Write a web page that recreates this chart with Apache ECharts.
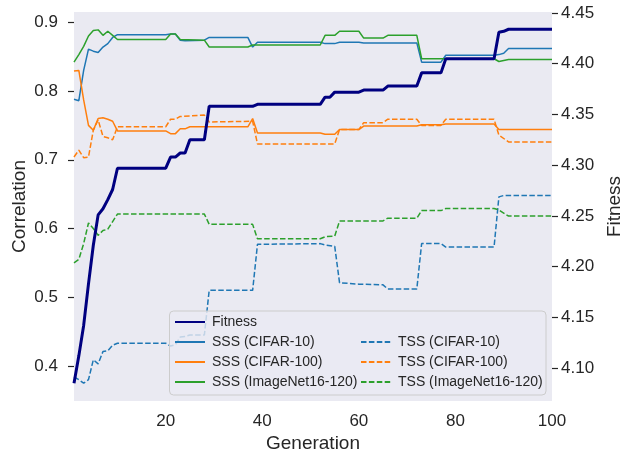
<!DOCTYPE html>
<html>
<head>
<meta charset="utf-8">
<script src="https://cdn.jsdelivr.net/npm/echarts@6/dist/echarts.min.js"></script>
<style>
html,body{margin:0;padding:0;background:#fff;}
#chart{width:629px;height:453px;}
</style>
</head>
<body>
<div id="chart"></div>
<script>
// ---- data: [generation, value] at each vertex ----
const fitness = [[1,4.085],[2,4.112],[3,4.142],[4,4.183],[5,4.221],[6,4.251],[7,4.257],[8,4.266],[9,4.276],[10,4.297],[20,4.297],[21,4.308],[22,4.308],[23,4.312],[24,4.312],[25,4.325],[28,4.325],[29,4.358],[38,4.358],[39,4.360],[52,4.360],[53,4.367],[54,4.367],[55,4.372],[60,4.372],[61,4.374],[65,4.374],[66,4.378],[72,4.378],[73,4.391],[77,4.391],[78,4.405],[88,4.405],[89,4.431],[90,4.432],[91,4.434],[100,4.434]];
const sssCifar10 = [[1,0.788],[2,0.786],[3,0.830],[4,0.861],[5,0.858],[6,0.856],[7,0.864],[8,0.869],[9,0.878],[10,0.882],[20,0.882],[21,0.883],[22,0.883],[23,0.874],[24,0.873],[28,0.874],[29,0.878],[37,0.878],[38,0.864],[39,0.871],[52,0.871],[53,0.869],[55,0.869],[56,0.871],[60,0.871],[61,0.870],[72,0.870],[73,0.842],[77,0.842],[78,0.852],[88,0.852],[89,0.853],[90,0.855],[91,0.862],[100,0.862]];
const sssCifar100 = [[1,0.829],[2,0.830],[3,0.787],[4,0.750],[5,0.743],[6,0.760],[7,0.761],[8,0.759],[9,0.756],[10,0.742],[20,0.742],[21,0.738],[22,0.738],[23,0.745],[24,0.745],[25,0.748],[37,0.748],[38,0.760],[39,0.739],[52,0.739],[53,0.737],[55,0.737],[56,0.744],[60,0.744],[61,0.749],[72,0.749],[73,0.751],[77,0.751],[78,0.752],[88,0.752],[89,0.744],[100,0.744]];
const sssImageNet = [[1,0.842],[2,0.853],[3,0.865],[4,0.880],[5,0.888],[6,0.889],[7,0.881],[8,0.887],[9,0.881],[10,0.875],[20,0.875],[21,0.883],[22,0.883],[23,0.875],[28,0.874],[29,0.864],[37,0.864],[38,0.867],[52,0.867],[53,0.881],[55,0.881],[56,0.887],[60,0.887],[61,0.877],[65,0.877],[66,0.881],[72,0.881],[73,0.847],[88,0.847],[89,0.843],[91,0.846],[100,0.846]];
const tssCifar10 = [[1,0.384],[2,0.380],[3,0.375],[4,0.380],[5,0.409],[6,0.403],[7,0.421],[8,0.422],[9,0.430],[10,0.433],[20,0.433],[21,0.429],[22,0.431],[23,0.442],[24,0.443],[25,0.445],[28,0.445],[29,0.510],[38,0.510],[39,0.577],[52,0.578],[53,0.576],[55,0.574],[56,0.521],[60,0.519],[65,0.518],[66,0.512],[72,0.512],[73,0.578],[77,0.578],[78,0.573],[88,0.573],[89,0.646],[90,0.648],[100,0.648]];
const tssCifar100 = [[1,0.704],[2,0.714],[3,0.703],[4,0.704],[5,0.743],[6,0.758],[7,0.734],[8,0.732],[9,0.729],[10,0.748],[20,0.748],[21,0.759],[22,0.759],[23,0.763],[28,0.765],[29,0.755],[38,0.756],[39,0.723],[55,0.723],[56,0.744],[60,0.744],[61,0.754],[65,0.754],[66,0.759],[72,0.759],[73,0.750],[77,0.750],[78,0.759],[88,0.759],[89,0.736],[91,0.726],[100,0.726]];
const tssImageNet = [[1,0.550],[2,0.555],[3,0.578],[4,0.608],[5,0.600],[6,0.590],[7,0.597],[8,0.599],[9,0.610],[10,0.621],[28,0.621],[29,0.606],[38,0.606],[39,0.585],[52,0.585],[53,0.588],[55,0.589],[56,0.611],[65,0.611],[66,0.615],[72,0.615],[73,0.626],[77,0.626],[78,0.629],[88,0.629],[89,0.627],[91,0.618],[100,0.618]];

const names = ['Fitness','SSS (CIFAR-10)','SSS (CIFAR-100)','SSS (ImageNet16-120)','TSS (CIFAR-10)','TSS (CIFAR-100)','TSS (ImageNet16-120)'];
const xTicks = [20,40,60,80,100];
const leftTicks = [0.4,0.5,0.6,0.7,0.8,0.9];
const rightTicks = [4.10,4.15,4.20,4.25,4.30,4.35,4.40,4.45];

const FONT = '"Liberation Sans", Arial, sans-serif';
const TXT = '#262626';
const BLUE = '#1f77b4', ORANGE = '#ff7f0e', GREEN = '#2ca02c', NAVY = '#000080';
const DASH = [5.5, 2.4];

function thin(name, data, color, dashed) {
  return {
    name: name, type: 'line', data: data, yAxisIndex: 0,
    symbol: 'none', showSymbol: false, z: 2,
    lineStyle: { color: color, width: 1.5, type: dashed ? DASH : 'solid' },
    itemStyle: { color: color },
    emphasis: { disabled: true }
  };
}

const legendCommon = {
  orient: 'vertical', itemWidth: 30, itemHeight: 14, itemGap: 6, selectedMode: false, z: 4,
  itemStyle: { opacity: 0 },
  textStyle: { fontSize: 14, color: TXT, fontFamily: FONT, padding: [0, 0, 0, 2] }
};

const chart = echarts.init(document.getElementById('chart'), null, { renderer: 'canvas' });
chart.setOption({
  animation: false,
  textStyle: { fontFamily: FONT, color: TXT },
  grid: { left: 74, right: 77, top: 12, bottom: 52, show: true, backgroundColor: '#eaeaf2', borderWidth: 0,
    containLabel: false, outerBoundsMode: 'none' },
  xAxis: {
    type: 'value', min: 1, max: 100,
    name: 'Generation', nameLocation: 'middle', nameGap: 33, nameMoveOverlap: false,
    nameTextStyle: { fontSize: 19, color: TXT, fontFamily: FONT },
    axisLine: { show: false }, axisTick: { show: false }, splitLine: { show: false },
    axisLabel: { customValues: xTicks, fontSize: 17, color: TXT, margin: 12, fontFamily: FONT }
  },
  yAxis: [{
    type: 'value', min: 0.349, max: 0.915, position: 'left',
    name: 'Correlation', nameLocation: 'middle', nameGap: 45, nameRotate: 90, nameMoveOverlap: false,
    nameTextStyle: { fontSize: 19, color: TXT, fontFamily: FONT },
    axisLine: { show: false }, splitLine: { show: false },
    axisTick: { show: true, customValues: leftTicks, length: 6, lineStyle: { color: TXT, width: 1.2 } },
    axisLabel: { customValues: leftTicks, fontSize: 17, color: TXT, margin: 16, fontFamily: FONT,
      formatter: v => v.toFixed(1) }
  }, {
    type: 'value', min: 4.0675, max: 4.451, position: 'right',
    name: 'Fitness', nameLocation: 'middle', nameGap: 53, nameRotate: 90, nameMoveOverlap: false,
    nameTextStyle: { fontSize: 19, color: TXT, fontFamily: FONT },
    axisLine: { show: false }, splitLine: { show: false },
    axisTick: { show: true, customValues: rightTicks, length: 6, lineStyle: { color: TXT, width: 1.2 } },
    axisLabel: { customValues: rightTicks, fontSize: 17, color: TXT, margin: 9, fontFamily: FONT,
      formatter: v => v.toFixed(2) }
  }],
  graphic: [{
    type: 'rect', z: 3,
    shape: { x: 169.5, y: 311, width: 376.5, height: 84, r: 4 },
    style: { fill: 'rgba(234,234,242,0.8)', stroke: '#cccccc', lineWidth: 1 }
  }],
  legend: [
    Object.assign({}, legendCommon, { data: names.slice(0, 4), left: 169, top: 310 }),
    Object.assign({}, legendCommon, { data: names.slice(4), left: 355, top: 330 })
  ],
  series: [
    thin(names[1], sssCifar10, BLUE, false),
    thin(names[2], sssCifar100, ORANGE, false),
    thin(names[3], sssImageNet, GREEN, false),
    thin(names[4], tssCifar10, BLUE, true),
    thin(names[5], tssCifar100, ORANGE, true),
    thin(names[6], tssImageNet, GREEN, true),
    {
      name: names[0], type: 'line', data: fitness, yAxisIndex: 1,
      symbol: 'none', showSymbol: false, z: 2.5,
      lineStyle: { color: NAVY, width: 3 }, itemStyle: { color: NAVY },
      emphasis: { disabled: true }
    }
  ]
});
</script>
</body>
</html>
